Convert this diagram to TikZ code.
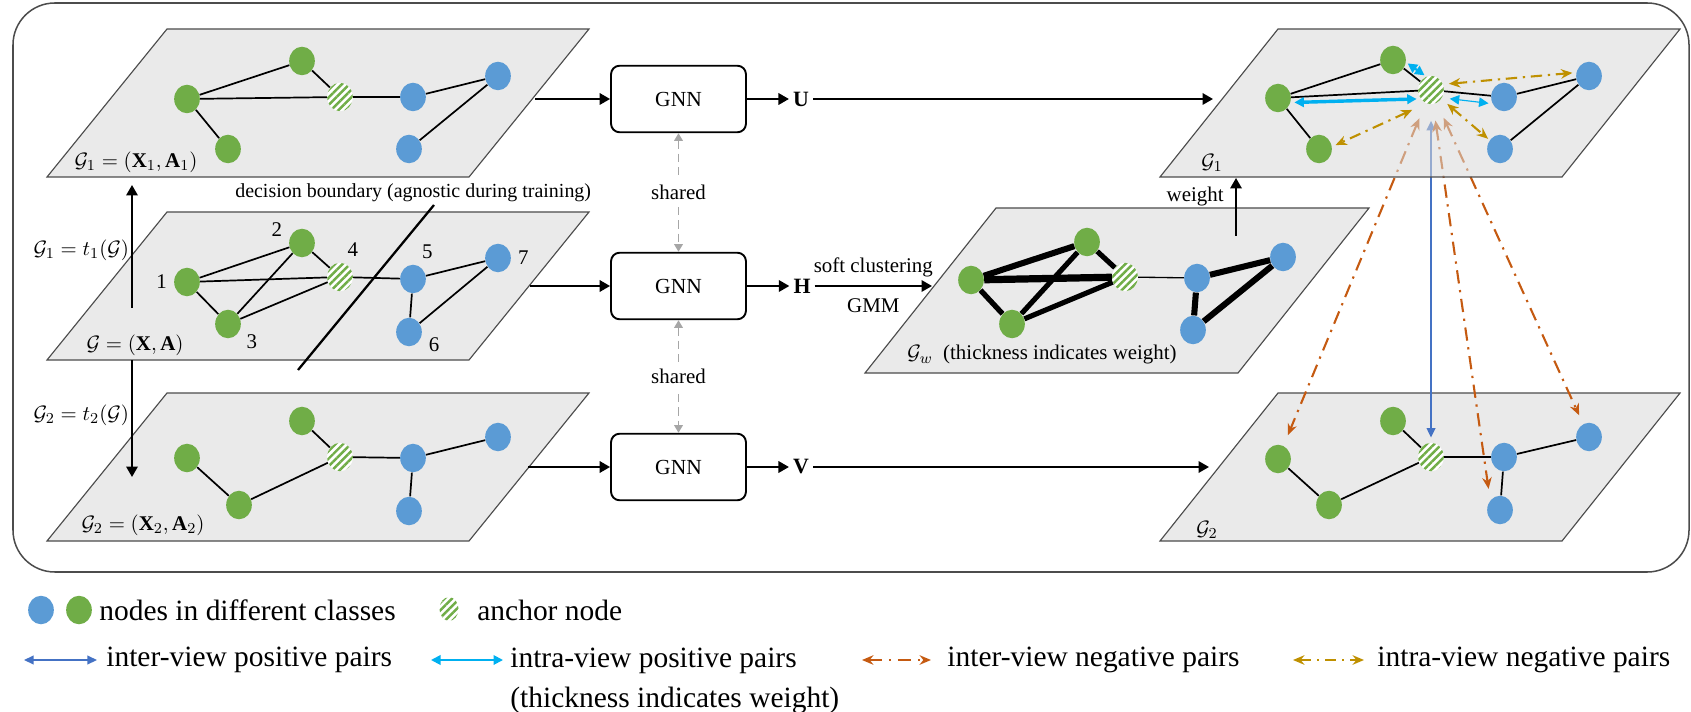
\documentclass[tikz,border=0pt]{standalone}
\usepackage{amsmath}
\usepackage{fontspec}
\setmainfont{Liberation Serif}
\usetikzlibrary{arrows.meta,shapes.geometric,patterns.meta}

\definecolor{ngreen}{HTML}{70AD47}
\definecolor{nblue}{HTML}{5B9BD5}
\definecolor{planegray}{HTML}{D9D9D9}
\definecolor{cintrapos}{HTML}{00B0F0}
\definecolor{cinterpos}{HTML}{4472C4}
\definecolor{cinterneg}{HTML}{C55A11}
\definecolor{cintraneg}{HTML}{BF9000}
\definecolor{sharedgray}{HTML}{A6A6A6}

\pgfdeclarelayer{planes}
\pgfdeclarelayer{links}
\pgfdeclarelayer{veil}
\pgfsetlayers{planes,links,veil,main}

\begin{document}
\begin{tikzpicture}[x=0.0185cm, y=-0.0185cm,
    outerbox/.style={draw=black!70, line width=0.8pt, rounded corners=22pt},
    plane/.style={draw=black!70, line width=0.6pt, fill=planegray, fill opacity=0.55},
    gnode/.style={ellipse, fill=ngreen, minimum width=13.5pt, minimum height=15pt, inner sep=0pt},
    bnode/.style={gnode, fill=nblue},
    anode/.style={gnode, fill=white, postaction={pattern={Lines[angle=45, distance=2.8pt, line width=1.3pt]}, pattern color=ngreen}},
    link/.style={line width=0.9pt},
    flow/.style={line width=1.1pt, -{Triangle[length=5.5pt, width=6pt]}},
    gnn/.style={draw, line width=1pt, rounded corners=4.5pt, minimum width=71pt, minimum height=35pt, font=\fontsize{11.3}{13}\selectfont},
    emb/.style={font=\fontsize{11.5}{13}\selectfont\bfseries, inner sep=2pt},
    lbl/.style={font=\fontsize{11}{13}\selectfont, inner sep=1pt},
    legtext/.style={font=\fontsize{15.5}{21}\selectfont, anchor=west, inner sep=0pt},
    sharedarrow/.style={sharedgray, line width=0.8pt, dash pattern=on 4.4pt off 2.6pt, {Triangle[length=4pt, width=4.5pt]}-{Triangle[length=4pt, width=4.5pt]}},
    posinter/.style={cinterpos, line width=1pt, {Triangle[length=5pt, width=4.5pt]}-{Triangle[length=5pt, width=4.5pt]}},
    posintra/.style={cintrapos, {Triangle[length=5pt, width=5pt]}-{Triangle[length=5pt, width=5pt]}},
    neginter/.style={cinterneg, line width=1.1pt, dash pattern=on 7pt off 3.5pt on 1.2pt off 3.5pt, {Stealth[length=6pt, width=5pt]}-{Stealth[length=6pt, width=5pt]}},
    negintra/.style={cintraneg, line width=1.1pt, dash pattern=on 6pt off 3pt on 1.2pt off 3pt, {Stealth[length=6pt, width=5pt]}-{Stealth[length=6pt, width=5pt]}},
    every label/.style={font=\fontsize{11}{13}\selectfont, inner sep=1pt},
    label distance=2.5pt
]
\useasboundingbox (0,0) rectangle (1691,712);

% outer box
\draw[outerbox] (13,3) rectangle (1689,572);

% planes
\begin{pgfonlayer}{planes}
\draw[plane] (167,29) -- (589,29) -- (469,177) -- (47,177) -- cycle;
\draw[plane] (167,212) -- (589,212) -- (469,360) -- (47,360) -- cycle;
\draw[plane] (167,393) -- (589,393) -- (469,541) -- (47,541) -- cycle;
\draw[plane] (996,208) -- (1369,208) -- (1238,373) -- (865,373) -- cycle;
\draw[plane] (1278,393) -- (1680,393) -- (1562,541) -- (1160,541) -- cycle;
\end{pgfonlayer}
\begin{pgfonlayer}{veil}
\draw[plane] (1278,29) -- (1680,29) -- (1562,177) -- (1160,177) -- cycle;
\end{pgfonlayer}

% view 1
\node[gnode] (u1) at (187,99) {};
\node[gnode] (u2) at (302,61) {};
\node[gnode] (u3) at (228,149) {};
\node[anode] (u4) at (340,97) {};
\node[bnode] (u5) at (413,97) {};
\node[bnode] (u6) at (409,149) {};
\node[bnode] (u7) at (498,76) {};
\foreach \a/\b in {u1/u2,u1/u4,u1/u3,u2/u4,u4/u5,u5/u7,u7/u6}
    \draw[link] (\a) -- (\b);
\node[lbl] at (136,162) {$\mathcal{G}_1=(\mathbf{X}_1,\mathbf{A}_1)$};

% original graph
\node[gnode, label=180:1] (h1) at (187,282) {};
\node[gnode, label=167:2] (h2) at (302,243) {};
\node[gnode, label=-27:3] (h3) at (228,324) {};
\node[anode, label=74:4] (h4) at (340,277) {};
\node[bnode, label=69:5] (h5) at (413,279) {};
\node[bnode, label=-12:6] (h6) at (409,332) {};
\node[bnode, label=0:7] (h7) at (498,258) {};
\foreach \a/\b in {h1/h2,h1/h4,h1/h3,h2/h4,h2/h3,h3/h4,h4/h5,h5/h7,h5/h6,h6/h7}
    \draw[link] (\a) -- (\b);
\node[lbl] at (135,345) {$\mathcal{G}=(\mathbf{X},\mathbf{A})$};
\draw[line width=1.2pt] (434,205) -- (298,370);
\node[lbl, anchor=west, font=\fontsize{10.5}{12}\selectfont] at (233,193) {decision boundary (agnostic during training)};

% view 2
\node[gnode] (v1) at (187,458) {};
\node[gnode] (v2) at (302,421) {};
\node[gnode] (v3) at (239,505) {};
\node[anode] (v4) at (340,457) {};
\node[bnode] (v5) at (413,458) {};
\node[bnode] (v6) at (409,511) {};
\node[bnode] (v7) at (498,437) {};
\foreach \a/\b in {v1/v3,v3/v4,v2/v4,v4/v5,v5/v7,v5/v6}
    \draw[link] (\a) -- (\b);
\node[lbl] at (143,525) {$\mathcal{G}_2=(\mathbf{X}_2,\mathbf{A}_2)$};

% augmentations
\coordinate (t1s) at (132,308);
\coordinate (t1e) at (132,185);
\coordinate (t2s) at (132,360);
\coordinate (t2e) at (132,477);
\draw[flow] (t1s) -- node[lbl, left=0pt, pos=0.47] {$\mathcal{G}_1=t_1(\mathcal{G})$} (t1e);
\draw[flow] (t2s) -- node[lbl, left=0pt, pos=0.47] {$\mathcal{G}_2=t_2(\mathcal{G})$} (t2e);

% encoders
\node[gnn] (gnn1) at (678.5,99) {GNN};
\node[gnn] (gnn2) at (678.5,286) {GNN};
\node[gnn] (gnn3) at (678.5,467) {GNN};
\node[emb] (U) at (801,99) {U};
\node[emb] (H) at (802,286) {H};
\node[emb] (V) at (801,467) {V};
\coordinate (uout) at (535,99);
\coordinate (hout) at (530,286);
\coordinate (vout) at (528,467);
\coordinate (pin) at (1213,99);
\coordinate (gwin) at (932,286);
\coordinate (qin) at (1209,467);
\draw[flow] (uout) -- (gnn1);
\draw[flow] (hout) -- (gnn2);
\draw[flow] (vout) -- (gnn3);
\draw[flow] (gnn1) -- (U);
\draw[flow] (gnn2) -- (H);
\draw[flow] (gnn3) -- (V);
\draw[flow] (U) -- (pin);
\draw[flow] (V) -- (qin);
\draw[flow] (H) -- node[lbl, above=3pt] {soft clustering} node[lbl, below=5pt] {GMM} (gwin);
\draw[sharedarrow] (gnn1) -- node[lbl, fill=white, text=black, inner ysep=4pt] {shared} (gnn2);
\draw[sharedarrow] (gnn2) -- node[lbl, fill=white, text=black, inner ysep=4pt] {shared} (gnn3);

% weighted graph
\node[gnode] (w1) at (971,280) {};
\node[gnode] (w2) at (1087,242) {};
\node[gnode] (w3) at (1012,324) {};
\node[anode] (w4) at (1125,277) {};
\node[bnode] (w5) at (1197,278) {};
\node[bnode] (w6) at (1193,330) {};
\node[bnode] (w7) at (1283,257) {};
\foreach \a/\b/\w in {w1/w2/3.2,w1/w4/3.8,w1/w3/2.8,w2/w4/2.7,w2/w3/2.7,w3/w4/2.7,w4/w5/0.7,w5/w7/3.2,w5/w6/3.2,w6/w7/3.2}
    \draw[line width=\w pt] (\a) -- (\b);
\node[lbl] at (1042,355) {$\mathcal{G}_w$\ \ (thickness indicates weight)};
\coordinate (ws) at (1236,236);
\coordinate (we) at (1236,178);
\draw[flow] (ws) -- node[lbl, pos=0.68, left=5pt] {weight} (we);

% contrastive view 1
\node[gnode] (p1) at (1278,98) {};
\node[gnode] (p2) at (1393,60) {};
\node[gnode] (p3) at (1319,149) {};
\node[anode] (p4) at (1431,90) {};
\node[bnode] (p5) at (1504,97) {};
\node[bnode] (p6) at (1500,149) {};
\node[bnode] (p7) at (1589,76) {};
\foreach \a/\b in {p1/p2,p1/p4,p1/p3,p2/p4,p4/p5,p5/p7,p7/p6}
    \draw[link] (\a) -- (\b);
\node[lbl] at (1212,163) {$\mathcal{G}_1$};

% contrastive view 2
\node[gnode] (q1) at (1278,459) {};
\node[gnode] (q2) at (1393,421) {};
\node[gnode] (q3) at (1329,505) {};
\node[anode] (q4) at (1431,457) {};
\node[bnode] (q5) at (1504,457) {};
\node[bnode] (q6) at (1500,510) {};
\node[bnode] (q7) at (1589,437) {};
\foreach \a/\b in {q1/q3,q3/q4,q2/q4,q4/q5,q5/q7,q5/q6}
    \draw[link] (\a) -- (\b);
\node[lbl] at (1207,530) {$\mathcal{G}_2$};

% inter-view pairs (under the upper plane)
\begin{pgfonlayer}{links}
\draw[posinter, shorten <=8.5pt, shorten >=2.5pt] (p4) -- (q4);
\draw[neginter, shorten <=8.5pt, shorten >=6pt] (p4) -- (q1);
\draw[neginter, shorten <=8.5pt, shorten >=6pt] (p4) -- (q6.135);
\draw[neginter, shorten <=8.5pt, shorten >=5pt] (p4) -- (q7);
\end{pgfonlayer}

% intra-view pairs
\draw[posintra, line width=1.8pt, shorten <=2pt, shorten >=2pt] (p1.-20) -- (p4.-140);
\draw[posintra, line width=0.6pt, shorten <=4pt, shorten >=2pt] (p4.-35) -- (p5.210);
\draw[posintra, line width=1.2pt, shorten <=1pt, shorten >=1pt] (p2.-10) -- (p4.110);
\draw[negintra, shorten <=3pt, shorten >=2pt] (p4.25) -- (p7.165);
\draw[negintra, shorten <=8pt, shorten >=2pt] (p4.250) -- (p3.10);
\draw[negintra, shorten <=4pt, shorten >=1pt] (p4) -- (p6);

% legend
\node[bnode] (kblue) at (41,610) {};
\node[gnode] (kgreen) at (79,610) {};
\node[legtext] at (99,610) {nodes in different classes};
\node[anode, minimum width=10pt, minimum height=12.5pt] (kanchor) at (449,609) {};
\node[legtext] at (477,610) {anchor node};
\coordinate (k1a) at (24,660);
\coordinate (k1b) at (97,660);
\coordinate (k2a) at (431,660);
\coordinate (k2b) at (503,660);
\coordinate (k3a) at (862,660);
\coordinate (k3b) at (931,660);
\coordinate (k4a) at (1293,660);
\coordinate (k4b) at (1364,660);
\draw[posinter] (k1a) -- (k1b);
\draw[posintra, line width=1pt] (k2a) -- (k2b);
\draw[neginter] (k3a) -- (k3b);
\draw[negintra] (k4a) -- (k4b);
\node[legtext] at (106,660) {inter-view positive pairs};
\node[legtext, anchor=north west, align=left] at (510,648) {intra-view positive pairs\\(thickness indicates weight)};
\node[legtext] at (947,660) {inter-view negative pairs};
\node[legtext] at (1377,660) {intra-view negative pairs};
\end{tikzpicture}
\end{document}
